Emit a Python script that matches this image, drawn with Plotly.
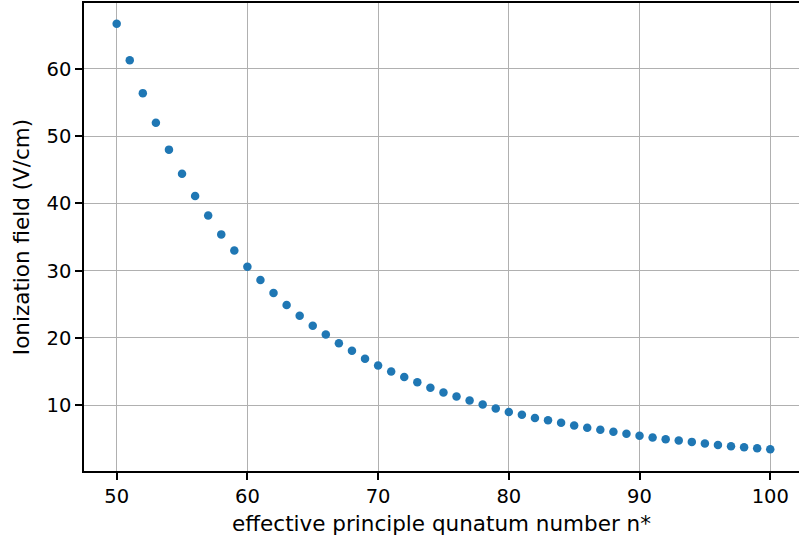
import plotly.graph_objects as go

n_star = list(range(50, 101))
field = [66.7, 61.3, 56.4, 52.0, 48.0, 44.4, 41.1, 38.2, 35.4, 33.0,
         30.6, 28.6, 26.7, 24.9, 23.3, 21.8, 20.5, 19.2, 18.1, 16.9,
         15.9, 15.0, 14.2, 13.4, 12.6, 11.9, 11.3, 10.7, 10.1, 9.5,
         9.0, 8.6, 8.1, 7.75, 7.4, 7.0, 6.65, 6.35, 6.05, 5.75,
         5.45, 5.2, 4.95, 4.75, 4.55, 4.3, 4.1, 3.9, 3.75, 3.6, 3.45]
x_ticks = [50, 60, 70, 80, 90, 100]
y_ticks = [10, 20, 30, 40, 50, 60]

fig = go.Figure()
fig.add_trace(go.Scatter(x=n_star, y=field, mode="markers",
                         marker=dict(color="#1f77b4", size=8.5, line=dict(width=0)),
                         showlegend=False))

font = dict(family="DejaVu Sans", size=19.5, color="black")
tfont = dict(family="DejaVu Sans", size=21.5, color="black")
fig.update_layout(
    width=799, height=543,
    margin=dict(l=84, r=0, t=3, b=72),
    plot_bgcolor="white", paper_bgcolor="white",
    font=font,
)
fig.update_xaxes(
    range=[47.5, 102.2], tickvals=x_ticks, ticktext=[str(v) for v in x_ticks],
    showgrid=True, gridcolor="#b0b0b0", gridwidth=1.4,
    showline=True, linecolor="black", linewidth=1.5, mirror=True,
    ticks="outside", ticklen=7, tickwidth=1.5, tickcolor="black",
    zeroline=False, automargin=False,
    title=dict(text="effective principle qunatum number n*", font=tfont, standoff=9),
)
fig.update_yaxes(
    range=[0.22, 69.8], tickvals=y_ticks, ticktext=[str(v) for v in y_ticks],
    showgrid=True, gridcolor="#b0b0b0", gridwidth=1.4,
    showline=True, linecolor="black", linewidth=1.5, mirror=False,
    ticks="outside", ticklen=7, tickwidth=1.5, tickcolor="black",
    zeroline=False, automargin=False,
    title=dict(text="Ionization field (V/cm)", font=tfont, standoff=11),
)
fig.write_html("out.html")
